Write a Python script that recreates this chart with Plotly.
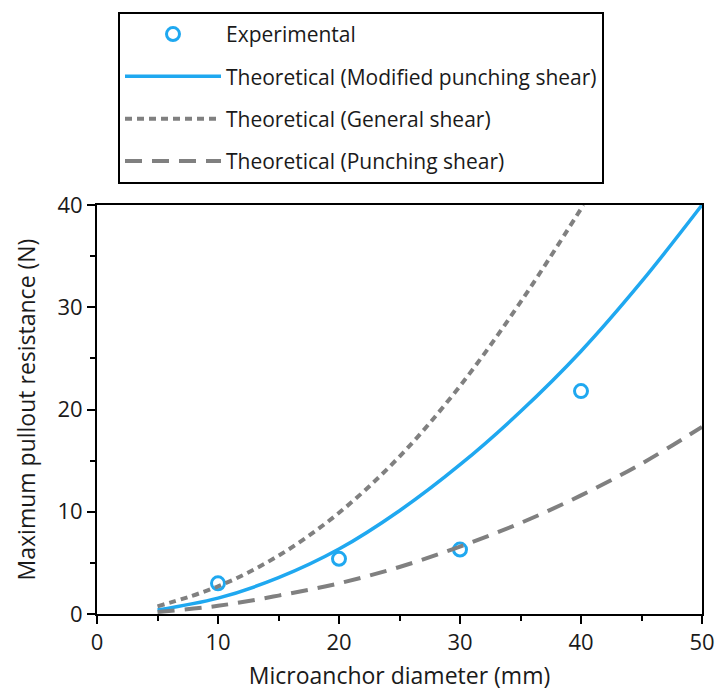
import plotly.graph_objects as go

# Data
exp_d = [10, 20, 30, 40]
exp_f = [3.0, 5.4, 6.3, 21.8]

mod_d = [5, 10, 15, 20, 25, 30, 35, 40, 45, 50]
mod_f = [0.4, 1.55, 3.55, 6.35, 10.1, 14.6, 19.8, 25.7, 32.5, 40.0]

gen_d = [5, 10, 15, 20, 25, 30, 35, 40.2]
gen_f = [0.75, 2.7, 5.7, 9.9, 15.4, 22.3, 30.5, 40.0]

pun_d = [5, 10, 15, 20, 25, 30, 35, 40, 45, 50]
pun_f = [0.2, 0.8, 1.8, 3.0, 4.6, 6.6, 8.9, 11.6, 14.7, 18.3]

BLUE = "#1fa8f0"
GRAY = "#808080"
FONT = "Open Sans"
TXT = "#1a1a1a"

fig = go.Figure()
fig.add_trace(go.Scatter(x=exp_d, y=exp_f, mode="markers", name="Experimental",
                         legendgroup="a",
                         marker=dict(symbol="circle-open", size=13, color=BLUE,
                                     line=dict(width=3, color=BLUE))))
fig.add_trace(go.Scatter(x=mod_d, y=mod_f, mode="lines", name="Theoretical (Modified punching shear)",
                         legendgroup="b", line=dict(color=BLUE, width=3.5, shape="spline")))
fig.add_trace(go.Scatter(x=gen_d, y=gen_f, mode="lines", name="Theoretical (General shear)",
                         legendgroup="c", line=dict(color=GRAY, width=4, shape="spline", dash="7px,5px")))
fig.add_trace(go.Scatter(x=pun_d, y=pun_f, mode="lines", name="Theoretical (Punching shear)",
                         legendgroup="d", line=dict(color=GRAY, width=4, shape="spline", dash="17px,10px")))

axis_common = dict(
    showline=True, linecolor="black", linewidth=2, mirror=True,
    ticks="outside", ticklen=8, tickwidth=2, tickcolor="black",
    showgrid=False, zeroline=False, automargin=False,
    tickfont=dict(family=FONT, size=22, color=TXT),
)

fig.update_xaxes(range=[0, 50], dtick=10,
                 minor=dict(ticks="outside", dtick=5, ticklen=5, tickwidth=2, tickcolor="black"),
                 title=dict(text="Microanchor diameter (mm)", font=dict(family=FONT, size=23, color=TXT), standoff=12),
                 **axis_common)
fig.update_yaxes(range=[0, 40], dtick=10,
                 minor=dict(ticks="outside", dtick=5, ticklen=5, tickwidth=2, tickcolor="black"),
                 title=dict(text="Maximum pullout resistance (N)", font=dict(family=FONT, size=23, color=TXT), standoff=15),
                 **axis_common)

fig.update_layout(
    width=717, height=693,
    margin=dict(l=97, r=15, t=201, b=79),
    plot_bgcolor="white", paper_bgcolor="white",
    font=dict(family=FONT, size=21, color=TXT),
    legend=dict(x=(118 - 97) / 605, y=(614 - 6) / 413,
                xanchor="left", yanchor="top",
                bordercolor="black", borderwidth=2, bgcolor="white",
                tracegroupgap=12, font=dict(family=FONT, size=21, color=TXT),
                itemwidth=96),
    showlegend=True,
)

fig.write_html("out.html", config={"displayModeBar": False},
               post_script="document.body.style.margin='0px';")
